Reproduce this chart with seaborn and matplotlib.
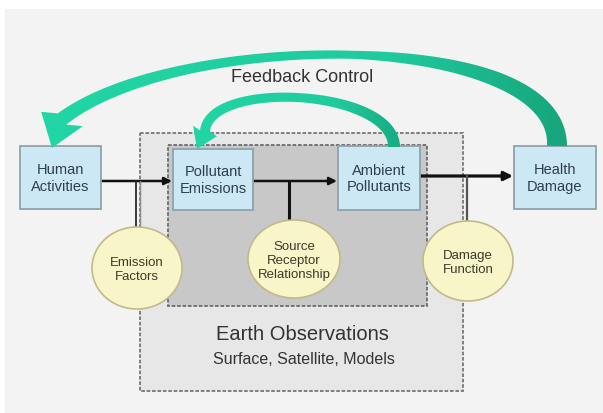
import numpy as np
import matplotlib
matplotlib.use("Agg")
import matplotlib.pyplot as plt
import seaborn as sns
from matplotlib.patches import Rectangle, Ellipse, Polygon
from matplotlib.colors import LinearSegmentedColormap

# ---- content ----
box_labels = ["Human\nActivities", "Pollutant\nEmissions", "Ambient\nPollutants", "Health\nDamage"]
ellipse_labels = ["Emission\nFactors", "Source\nReceptor\nRelationship", "Damage\nFunction"]
loop_label = "Feedback Control"
frame_title = "Earth Observations"
frame_subtitle = "Surface, Satellite, Models"

# ---- layout (pixel units) ----
box_rects = [(20, 147, 81, 63), (173, 150, 80, 61), (338, 147, 82, 64), (514, 147, 82, 63)]
ellipse_geo = [(137, 269, 90, 82), (294, 260, 92, 78), (468, 262, 90, 80)]

sns.set_theme(style="white")
plt.rcParams['font.family'] = ['Liberation Sans', 'DejaVu Sans']

fig = plt.figure(figsize=(6.03, 4.14), dpi=100)
ax = fig.add_axes([0, 0, 1, 1])
ax.set_xlim(0, 603)
ax.set_ylim(414, 0)
ax.axis('off')
fig.patch.set_facecolor('white')

# background panel
ax.add_patch(Rectangle((5, 10), 600, 410, facecolor='#f3f3f3', edgecolor='none', zorder=0))
# outer frame (Earth Observations)
ax.add_patch(Rectangle((140, 134), 323, 258, facecolor='#e7e7e7', edgecolor='#767676',
                       lw=1.3, ls=(0, (2, 1)), zorder=1))
# inner frame
ax.add_patch(Rectangle((168, 146), 259, 161, facecolor='#c8c8c8', edgecolor='#6c6c6c',
                       lw=1.3, ls=(0, (2, 1)), zorder=2))

ax.text(302, 335, frame_title, ha='center', va='center', fontsize=14.5, color='#333333', zorder=5)
ax.text(304, 360, frame_subtitle, ha='center', va='center', fontsize=11.5, color='#333333', zorder=5)

# ---- black connectors ----
def arrow(x0, y0, x1, y1, lw=1.8, ms=11):
    ax.annotate('', xy=(x1, y1), xytext=(x0, y0),
                arrowprops=dict(arrowstyle='-|>', lw=lw, color='#111111', mutation_scale=ms,
                                shrinkA=0, shrinkB=0), zorder=3)

arrow(101, 182, 172, 182)
arrow(253, 182, 337, 182)
arrow(420, 177, 513, 177, lw=2.3, ms=13)
ax.plot([136, 136], [182, 232], color='#2a2a2a', lw=1.3, zorder=3)
ax.plot([140, 140], [182, 232], color='#8a8a8a', lw=1.0, zorder=3)
ax.plot([289, 289], [182, 224], color='#111111', lw=2.2, zorder=3)
ax.plot([467, 467], [177, 226], color='#555555', lw=1.6, zorder=3)

# ---- boxes ----
for (x, y, w, h), lab in zip(box_rects, box_labels):
    ax.add_patch(Rectangle((x, y), w, h, facecolor='#cde8f5', edgecolor='#8ea3ad', lw=1.3, zorder=4))
    ax.text(x + w / 2, y + h / 2, lab, ha='center', va='center', fontsize=10.5,
            color='#2e3e4e', linespacing=1.25, zorder=5)

# ---- ellipses ----
for (cx, cy, w, h), lab in zip(ellipse_geo, ellipse_labels):
    ax.add_patch(Ellipse((cx, cy), w, h, facecolor='#f8f6c8', edgecolor='#c2b98a', lw=1.2, zorder=4))
    ax.text(cx, cy + 1, lab, ha='center', va='center', fontsize=9.5,
            color='#3a3a2a', linespacing=1.25, zorder=5)

# ---- green feedback arrows ----
def bezier(P, n=300):
    t = np.linspace(0, 1, n)[:, None]
    P = np.array(P, float)
    pts = ((1 - t) ** 3) * P[0] + 3 * ((1 - t) ** 2) * t * P[1] + 3 * (1 - t) * t ** 2 * P[2] + t ** 3 * P[3]
    return t.ravel(), pts

def band_polygon(P, wt, wv, tip, head_w):
    t, pts = bezier(P)
    d = np.gradient(pts, axis=0)
    d /= np.linalg.norm(d, axis=1)[:, None]
    nrm = np.stack([-d[:, 1], d[:, 0]], axis=1)
    w = np.interp(t, wt, wv)[:, None] / 2
    left = pts + nrm * w
    right = pts - nrm * w
    base = pts[-1]
    tip = np.array(tip, float)
    hd = tip - base
    hd /= np.linalg.norm(hd)
    hn = np.array([-hd[1], hd[0]])
    if np.dot(hn, nrm[-1]) < 0:
        hn = -hn
    cl = base + hn * head_w / 2
    cr = base - hn * head_w / 2
    return np.vstack([left, cl, tip, cr, right[::-1]])

cmap = LinearSegmentedColormap.from_list('g', [(0, '#22d6a6'), (0.65, '#1fcb9d'), (1, '#16a27a')])
grad = np.linspace(0, 1, 256)[None, :]

def draw_band(poly, x0, x1):
    patch = Polygon(poly, closed=True, facecolor='none', edgecolor='none', transform=ax.transData)
    ax.add_patch(patch)
    im = ax.imshow(grad, cmap=cmap, extent=(x0, x1, 414, 0), aspect='auto', zorder=6,
                   interpolation='bilinear')
    im.set_clip_path(patch)

big = band_polygon([(557, 147), (560, 30), (180, 30), (62, 120)],
                   [0, 0.25, 0.5, 0.75, 1], [20, 15, 8, 10, 14], (52, 149), 44)
draw_band(big, 30, 580)
small = band_polygon([(394, 148), (394, 90), (210, 80), (205, 132)],
                     [0, 0.5, 1], [12, 9, 10], (197, 150), 26)
draw_band(small, 180, 420)

ax.set_xlim(0, 603)
ax.set_ylim(414, 0)

ax.text(302, 77, loop_label, ha='center', va='center', fontsize=13, color='#333333', zorder=7)

fig.savefig('out.png', dpi=100, facecolor='white')
